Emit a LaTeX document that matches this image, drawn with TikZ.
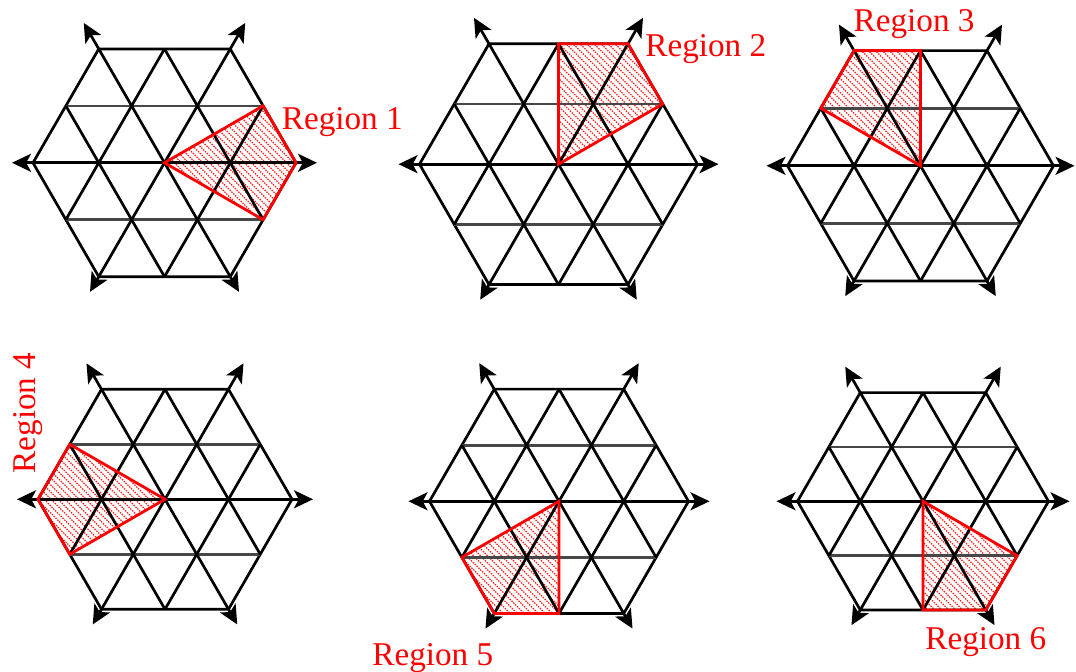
\documentclass[tikz,border=0pt]{standalone}
\usepackage{fontspec}
\setmainfont{Liberation Serif}
\usetikzlibrary{arrows.meta}
\tikzset{
  gridline/.style={line width=1.35pt, black},
  gridh/.style={line width=1.3pt, black!72},
  axisline/.style={line width=1.35pt, black,
    {Stealth[length=9.5pt,width=9pt,inset=2.4pt]}-{Stealth[length=9.5pt,width=9pt,inset=2.4pt]}},
  regionline/.style={line width=1.4pt, red, line join=miter},
  hatch/.style={red!90, line width=0.6pt, dash pattern=on 0.7pt off 0.6pt},
  lbl/.style={text=red, font=\fontsize{16.6}{20}\selectfont, inner sep=0pt},
}
% #1,#2 centre (px), #3 hexagon radius (px), #4 region polygon (units of L)
\newcommand\hexfig[4]{%
  \begin{scope}[shift={(#1,#2)}, x={(#3*0.25pt,0pt)}, y={(0pt,#3*0.25pt)}]
    \pgfmathsetmacro\h{0.8660254}
    \pgfmathsetmacro\et{30/(#3/2)}
    \pgfmathsetmacro\eb{17.5/(#3/2)}
    \pgfmathsetmacro\eh{21/(#3/2)}
    \pgfmathsetmacro\kb{-4+7/(#3/2)}
    % hatching of the region
    \begin{scope}
      \clip #4;
      \foreach \k in {-4,\kb,...,4} {\draw[hatch] (\k+3,-3) -- (\k-3,3);}
    \end{scope}
    % grid
    \draw[gridline] (-2,0) -- (-1,2*\h) -- (1,2*\h) -- (2,0) -- (1,-2*\h) -- (-1,-2*\h) -- cycle;
    \draw[gridh] (-1.5,\h) -- (1.5,\h);
    \draw[gridh] (-1.5,-\h) -- (1.5,-\h);
    \draw[gridline] (0,-2*\h) -- (1.5,\h);
    \draw[gridline] (-1.5,-\h) -- (0,2*\h);
    \draw[gridline] (1.5,-\h) -- (0,2*\h);
    \draw[gridline] (0,-2*\h) -- (-1.5,\h);
    % axes
    \draw[axisline] (-2-\eh,0) -- (2+\eh,0);
    \draw[axisline] (-1-0.5*\eb,-2*\h-\h*\eb) -- (1+0.5*\et,2*\h+\h*\et);
    \draw[axisline] (1+0.5*\eb,-2*\h-\h*\eb) -- (-1-0.5*\et,2*\h+\h*\et);
    % region outline
    \draw[regionline] #4;
  \end{scope}}
\begin{document}
\begin{tikzpicture}[x=0.5pt,y=-0.5pt]
  \useasboundingbox (0,0) rectangle (1076,672);
  \hexfig{164.5}{162.8}{131.5}{(0,0) -- (1.5,\h) -- (2,0) -- (1.5,-\h) -- cycle}
  \hexfig{558.5}{164.2}{139}{(0,0) -- (0,2*\h) -- (1,2*\h) -- (1.5,\h) -- cycle}
  \hexfig{920.5}{165.8}{133}{(0,0) -- (-1.5,\h) -- (-1,2*\h) -- (0,2*\h) -- cycle}
  \hexfig{165}{499.3}{127}{(0,0) -- (-1.5,-\h) -- (-2,0) -- (-1.5,\h) -- cycle}
  \hexfig{559}{501.3}{129.5}{(0,0) -- (0,-2*\h) -- (-1,-2*\h) -- (-1.5,-\h) -- cycle}
  \hexfig{923}{501.3}{125.5}{(0,0) -- (1.5,-\h) -- (1,-2*\h) -- (0,-2*\h) -- cycle}
  \node[lbl, anchor=base west] (r1) at (281.5,130) {Region 1};
  \node[lbl, anchor=base west] (r2) at (645,56.7) {Region 2};
  \node[lbl, anchor=base west] (r3) at (853.3,31.7) {Region 3};
  \node[lbl, anchor=base, rotate=90] (r4) at (35,413) {Region 4};
  \node[lbl, anchor=base west] (r5) at (372,666) {Region 5};
  \node[lbl, anchor=base west] (r6) at (925,650) {Region 6};
\end{tikzpicture}
\end{document}
